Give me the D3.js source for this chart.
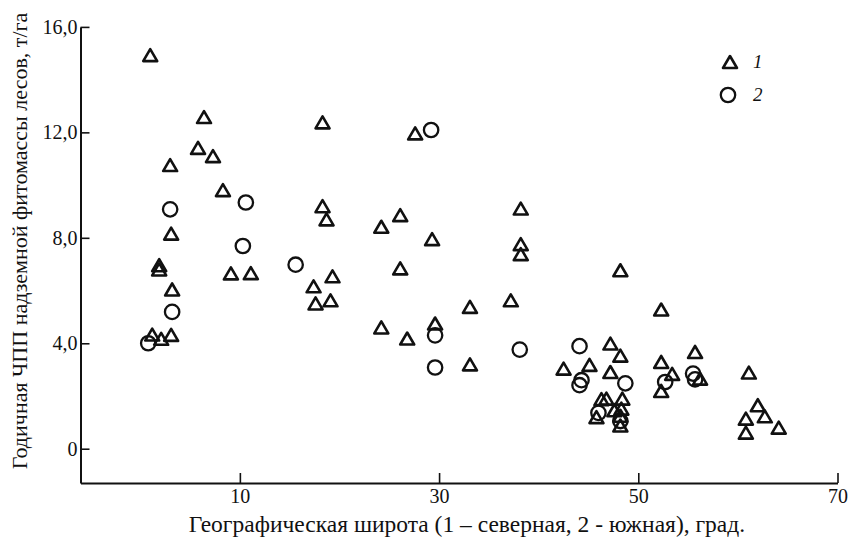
<!DOCTYPE html>
<html>
<head>
<meta charset="utf-8">
<script src="https://cdn.jsdelivr.net/npm/d3@7"></script>
<style>
  html, body { margin: 0; padding: 0; background: #fff; }
  svg { display: block; }
  text { font-family: "Liberation Serif", "DejaVu Serif", serif; fill: #111; }
</style>
</head>
<body>
<svg id="chart" width="848" height="537"></svg>
<script>
// Серия 1 — северная широта (треугольники): [широта, ЧПП т/га]
const series1 = [
  [1.0, 14.93], [6.4, 12.58], [5.8, 11.41], [7.3, 11.10], [3.0, 10.76],
  [8.3, 9.81], [3.1, 8.16], [1.9, 6.96], [1.9, 6.80], [3.2, 6.04],
  [9.1, 6.65], [11.1, 6.66], [3.1, 4.32], [1.2, 4.33], [2.1, 4.17],
  [18.3, 12.38], [27.6, 11.96], [18.3, 9.20], [18.7, 8.70], [26.1, 8.86],
  [24.2, 8.42], [29.3, 7.95], [38.2, 9.11], [38.2, 7.76], [38.2, 7.38],
  [19.3, 6.54], [17.4, 6.16], [17.6, 5.51], [19.1, 5.63], [26.1, 6.84],
  [33.1, 5.38], [37.2, 5.63], [24.2, 4.60], [26.8, 4.18], [29.6, 4.75],
  [33.1, 3.20], [42.5, 3.04], [47.2, 3.99], [48.2, 3.53], [45.1, 3.18],
  [47.2, 2.91], [48.2, 6.77], [52.3, 5.28], [52.3, 3.29], [52.3, 2.19],
  [53.4, 2.84], [55.7, 3.67], [56.2, 2.66], [61.1, 2.89], [62.0, 1.65],
  [60.8, 1.14], [62.7, 1.23], [64.1, 0.80], [60.8, 0.61], [46.3, 1.88],
  [46.8, 1.90], [48.4, 1.90], [45.8, 1.20], [47.6, 1.46], [48.3, 1.52],
  [48.2, 1.25], [48.2, 0.88]
];

// Серия 2 — южная широта (кружки)
const series2 = [
  [0.8, 4.00], [3.2, 5.19], [3.0, 9.08], [10.6, 9.34], [10.3, 7.69],
  [15.6, 6.98], [29.2, 12.09], [29.6, 4.30], [29.6, 3.08], [38.1, 3.76],
  [44.1, 3.89], [48.7, 2.48], [44.3, 2.60], [44.1, 2.41], [46.0, 1.36],
  [48.2, 1.05], [52.7, 2.53], [55.5, 2.85], [55.7, 2.63]
];

const xTicks = [10, 30, 50, 70];
const yTicks = [0, 4, 8, 12, 16];
const legendLabels = ["1", "2"];
const xTitle = "Географическая широта (1 – северная, 2 - южная), град.";
const yTitle = "Годичная ЧПП надземной фитомассы лесов, т/га";

const svg = d3.select("#chart");

const x = d3.scaleLinear().domain([-6, 70]).range([80.5, 837.5]);
const y = d3.scaleLinear().domain([-1.3, 16]).range([483, 26.9]);

const fmtY = d => d === 0 ? "0" : d3.format(".1f")(d).replace(".", ",");

// Ось X (риски внутрь)
const gx = svg.append("g")
  .attr("transform", `translate(0,${y(-1.3)})`)
  .call(d3.axisBottom(x).tickValues(xTicks).tickSizeInner(-10).tickSizeOuter(0));
gx.select(".domain").attr("stroke", "#111").attr("stroke-width", 2);
gx.selectAll(".tick line").attr("stroke", "#111").attr("stroke-width", 1.6);
gx.selectAll(".tick text")
  .attr("y", 20)
  .attr("dy", 0)
  .style("font-size", "20px")
  .style("font-family", "'Liberation Serif', serif");

// Ось Y
const gy = svg.append("g")
  .attr("transform", `translate(${x(-6)},0)`)
  .call(d3.axisLeft(y).tickValues(yTicks).tickFormat(fmtY).tickSizeInner(-9).tickSizeOuter(0).tickPadding(3));
gy.select(".domain").attr("stroke", "#111").attr("stroke-width", 2);
gy.selectAll(".tick line").attr("stroke", "#111").attr("stroke-width", 1.6);
gy.selectAll(".tick text")
  .style("font-size", "20px")
  .style("font-family", "'Liberation Serif', serif");

// Подписи осей
svg.append("text")
  .attr("x", 467)
  .attr("y", 532)
  .attr("text-anchor", "middle")
  .style("font-size", "23.5px")
  .text(xTitle);

svg.append("text")
  .attr("transform", "translate(27,241) rotate(-90)")
  .attr("text-anchor", "middle")
  .style("font-size", "22px")
  .text(yTitle);

// Маркеры
function trianglePath(cx, cy, w = 14, h = 12) {
  const p = d3.path();
  p.moveTo(cx, cy - h / 2);
  p.lineTo(cx + w / 2, cy + h / 2);
  p.lineTo(cx - w / 2, cy + h / 2);
  p.closePath();
  return p.toString();
}

const gPts = svg.append("g");

gPts.selectAll("circle.s2")
  .data(series2)
  .join("circle")
  .attr("class", "s2")
  .attr("cx", d => x(d[0]))
  .attr("cy", d => y(d[1]))
  .attr("r", 7.2)
  .attr("fill", "none")
  .attr("stroke", "#111")
  .attr("stroke-width", 2.3);

gPts.selectAll("path.s1")
  .data(series1)
  .join("path")
  .attr("class", "s1")
  .attr("d", d => trianglePath(x(d[0]), y(d[1])))
  .attr("fill", "none")
  .attr("stroke", "#111")
  .attr("stroke-width", 2.6)
  .attr("stroke-linejoin", "round");

// Легенда
const legend = svg.append("g");
legend.append("path")
  .attr("d", trianglePath(730, 62))
  .attr("fill", "none")
  .attr("stroke", "#111")
  .attr("stroke-width", 2.6)
  .attr("stroke-linejoin", "round");
legend.append("circle")
  .attr("cx", 728).attr("cy", 95).attr("r", 7.2)
  .attr("fill", "none").attr("stroke", "#111").attr("stroke-width", 2.3);

legend.selectAll("text")
  .data(legendLabels)
  .join("text")
  .attr("x", 753)
  .attr("y", (d, i) => 68 + i * 33)
  .style("font-size", "19px")
  .style("font-style", "italic")
  .text(d => d);
</script>
</body>
</html>
